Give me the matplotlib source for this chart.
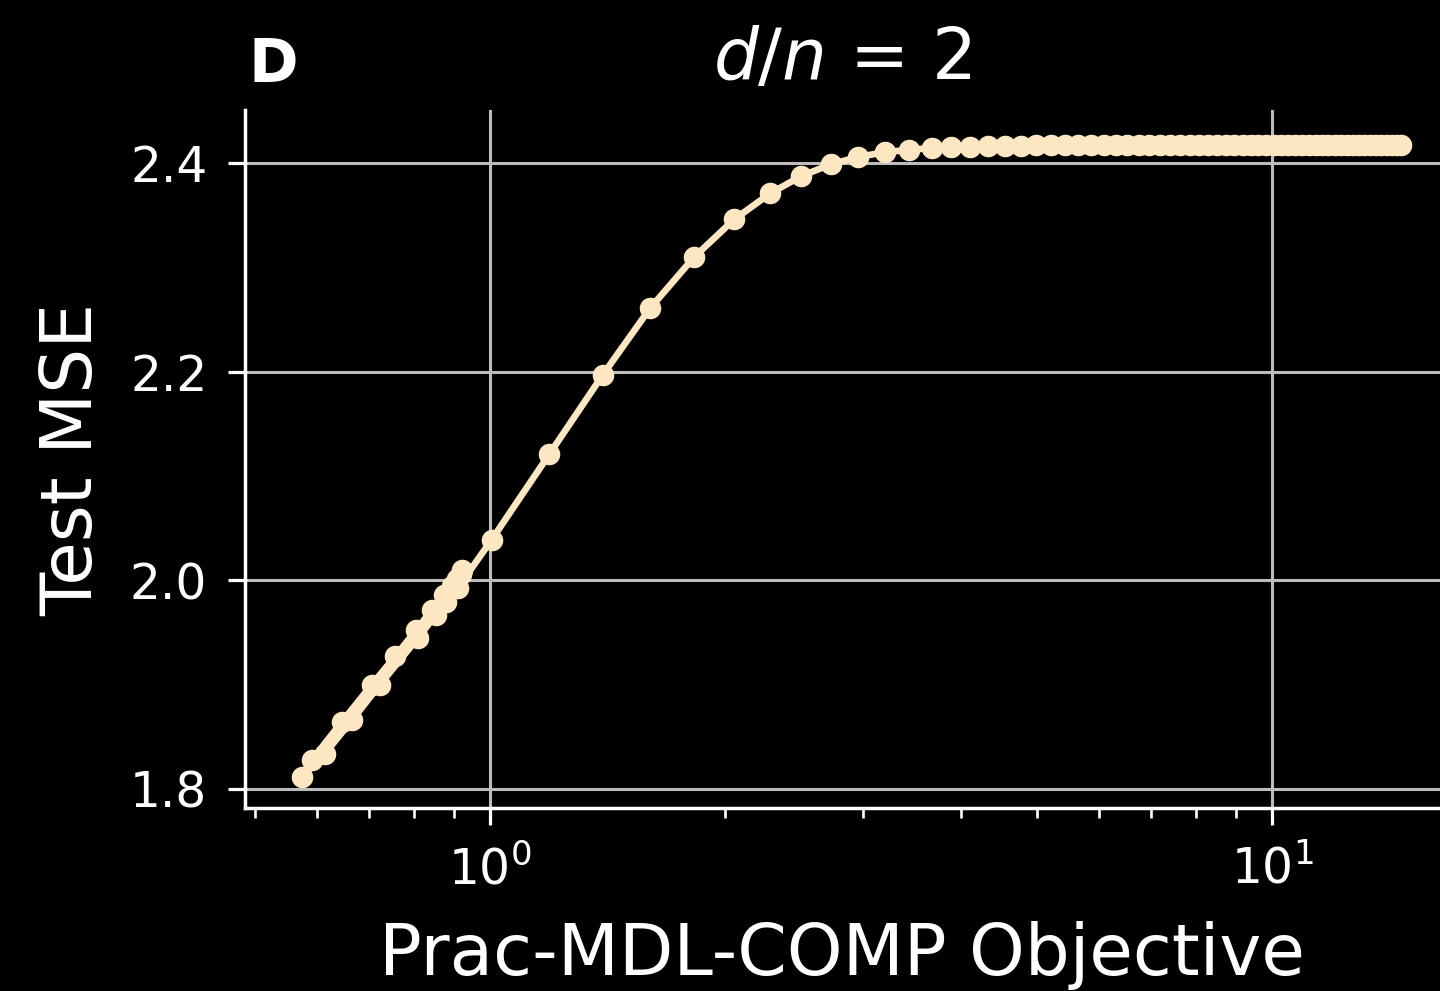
import numpy as np
import matplotlib
matplotlib.use("Agg")
import matplotlib.pyplot as plt
from matplotlib.ticker import LogLocator, NullFormatter

# Objective vs. test error for the d/n = 2 sweep
objective = [
    0.921, 0.918, 0.907, 0.894, 0.873, 0.843, 0.804, 0.756, 0.706, 0.646, 0.592,
    0.574,
    0.615, 0.666, 0.723, 0.809, 0.853, 0.878, 0.910,
    1.005, 1.191, 1.394, 1.603, 1.825, 2.053, 2.283, 2.502, 2.733, 2.959,
    3.204, 3.43, 3.67, 3.89, 4.11, 4.33, 4.55, 4.77, 4.99, 5.21, 5.43,
    5.65, 5.87, 6.09, 6.31, 6.53, 6.75, 6.97, 7.19, 7.41, 7.63, 7.85,
    8.07, 8.29, 8.51, 8.73, 8.95, 9.17, 9.39, 9.61, 9.83, 10.05, 10.27,
    10.49, 10.71, 10.93, 11.15, 11.37, 11.59, 11.81, 12.03, 12.25, 12.47,
    12.69, 12.91, 13.13, 13.35, 13.57, 13.79, 14.01, 14.23, 14.45, 14.6,
]
test_mse = [
    2.010, 2.006, 2.001, 1.995, 1.986, 1.972, 1.952, 1.927, 1.900, 1.864, 1.828,
    1.8115,
    1.834, 1.866, 1.900, 1.945, 1.967, 1.979, 1.993,
    2.039, 2.121, 2.197, 2.261, 2.310, 2.346, 2.371, 2.3875, 2.399, 2.4058,
    2.4105, 2.4125, 2.4144, 2.4153, 2.4158, 2.4162, 2.4165, 2.4167, 2.4168,
    2.4169, 2.4170, 2.4170, 2.4170, 2.4171, 2.4171, 2.4171, 2.4171, 2.4171,
    2.4171, 2.4172, 2.4172, 2.4172, 2.4172, 2.4172, 2.4172, 2.4172, 2.4172,
    2.4172, 2.4172, 2.4172, 2.4172, 2.4172, 2.4172, 2.4172, 2.4172, 2.4172,
    2.4172, 2.4172, 2.4172, 2.4172, 2.4172, 2.4172, 2.4172, 2.4172, 2.4172,
    2.4172, 2.4172, 2.4172, 2.4172, 2.4172, 2.4172, 2.4172, 2.4172,
]
y_ticks = [1.8, 2.0, 2.2, 2.4]

line_color = "#fde6c2"
grid_color = "#bcbcbc"

plt.rcParams['figure.facecolor'] = "black"
plt.rcParams['axes.facecolor'] = "black"
plt.rcParams['text.color'] = "white"
plt.rcParams['xtick.color'] = "white"
plt.rcParams['ytick.color'] = "white"
plt.rcParams['axes.labelcolor'] = "white"

fig = plt.figure(figsize=(14.4, 9.91), dpi=100)
ax = fig.add_axes([0.170, 0.1847, 0.830, 0.7043])

ax.plot(objective, test_mse, color=line_color, lw=4.8, marker="o",
        markersize=14.5, zorder=3)

ax.set_xscale("log")
ax.set_xlim(0.4857, 16.4)
ax.set_ylim(1.7818, 2.4508)
ax.set_yticks(y_ticks)
ax.set_yticklabels([f"{v:.1f}" for v in y_ticks])
ax.xaxis.set_minor_locator(LogLocator(base=10, subs=np.arange(2, 10)))
ax.xaxis.set_minor_formatter(NullFormatter())

ax.grid(True, which="major", color=grid_color, lw=2.2, zorder=0)
ax.set_axisbelow(True)

for side in ("top", "right"):
    ax.spines[side].set_visible(False)
for side in ("left", "bottom"):
    ax.spines[side].set_color("white")
    ax.spines[side].set_linewidth(2.5)

ax.tick_params(which="major", length=12, width=2.3, pad=15, labelsize=35)
ax.tick_params(which="minor", length=7, width=1.9)

ax.set_xlabel("Prac-MDL-COMP Objective", fontsize=51, labelpad=19)
ax.set_ylabel("Test MSE", fontsize=51, labelpad=16)
ax.set_title("$d/n$ = 2", fontsize=51, pad=22)
fig.text(249 / 1440, 1 - 82 / 991, "D", fontsize=43, fontweight="bold",
         va="baseline", ha="left")

fig.savefig("out.png", dpi=100, facecolor="black")
